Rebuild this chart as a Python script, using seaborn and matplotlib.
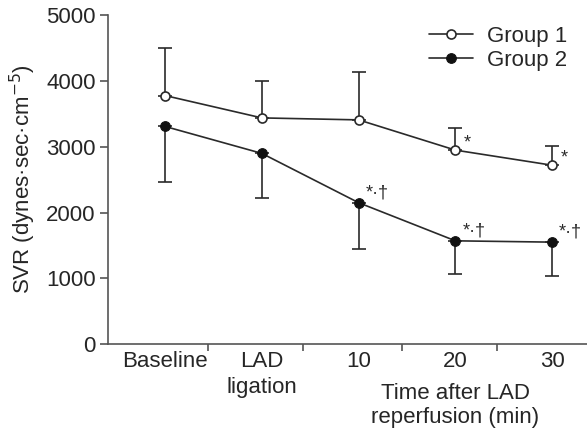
import numpy as np
import pandas as pd
import matplotlib
matplotlib.use("Agg")
import matplotlib.pyplot as plt
import seaborn as sns

# values
categories = ["Baseline", "LAD\nligation", "10", "20", "30"]
group1_mean = [3780, 3440, 3410, 2950, 2720]
group1_err = [720, 560, 730, 340, 290]      # upper error only
group2_mean = [3310, 2900, 2150, 1570, 1550]
group2_err = [850, 680, 700, 510, 510]      # lower error only
group1_marks = ["", "", "", "*", "*"]
group2_marks = ["", "", "*\u00b7\u2020", "*\u00b7\u2020", "*\u00b7\u2020"]

sns.set_style("ticks")
plt.rcParams["font.family"] = ["Liberation Sans", "DejaVu Sans"]
plt.rcParams["font.size"] = 16

gray = "#555555"
ink = "#2a2a2a"

x = np.arange(len(categories))
df = pd.DataFrame({
    "x": np.concatenate([x, x]),
    "SVR": group1_mean + group2_mean,
    "group": ["Group 1"] * len(x) + ["Group 2"] * len(x),
})

fig = plt.figure(figsize=(5.87, 4.33), dpi=100)
ax = fig.add_axes([0.184, 0.2055, 0.816, 0.759])

# error bars (one sided)
ax.errorbar(x, group1_mean, yerr=[np.zeros(len(x)), group1_err], fmt="none",
            ecolor=ink, elinewidth=1.2, capsize=5, capthick=1.2, zorder=1)
ax.errorbar(x, group2_mean, yerr=[group2_err, np.zeros(len(x))], fmt="none",
            ecolor=ink, elinewidth=1.2, capsize=5, capthick=1.2, zorder=1)

sns.lineplot(data=df[df.group == "Group 1"], x="x", y="SVR", ax=ax, color=ink,
             lw=1.2, marker="o", markersize=6.5, markerfacecolor="white",
             markeredgecolor=ink, markeredgewidth=1.2, label="Group 1", zorder=3)
sns.lineplot(data=df[df.group == "Group 2"], x="x", y="SVR", ax=ax, color=ink,
             lw=1.2, marker="o", markersize=7, markerfacecolor="#111111",
             markeredgecolor="#111111", label="Group 2", zorder=3)

# significance marks
for xi, yi, m in zip(x, group1_mean, group1_marks):
    if m:
        ax.annotate(m, (xi, yi), xytext=(6, -1), textcoords="offset points",
                    fontsize=13, va="bottom", ha="left", color=ink)
for xi, yi, m in zip(x, group2_mean, group2_marks):
    if m:
        ax.annotate(m, (xi, yi), xytext=(5, 1), textcoords="offset points",
                    fontsize=13, va="bottom", ha="left", color=ink)

ax.set_xlim(-0.59, 4.36)
ax.set_ylim(0, 5000)
ax.set_yticks([0, 1000, 2000, 3000, 4000, 5000])
ax.set_xticks(x)
ax.set_xticklabels(categories)
ax.set_xticks([0.44, 1.43, 2.45, 3.43], minor=True)
ax.tick_params(axis="x", which="major", length=0, pad=5, labelsize=16)
ax.tick_params(axis="x", which="minor", length=5, width=1.2, color=gray, direction="out")
ax.tick_params(axis="y", length=6, width=1.2, color=gray, labelsize=16, pad=3)
for t in ax.get_xticklabels():
    t.set_linespacing(1.3)
    t.set_va("top")

ax.set_xlabel("")
ax.set_ylabel("SVR (dynes\u00b7sec\u00b7cm$^{-5}$)", fontsize=16, labelpad=6)
ax.text(3.0, -0.118, "Time after LAD\nreperfusion (min)", transform=ax.get_xaxis_transform(),
        ha="center", va="top", fontsize=16, linespacing=1.2)

sns.despine(ax=ax)
for s in ["left", "bottom"]:
    ax.spines[s].set_color(gray)
    ax.spines[s].set_linewidth(1.2)

leg = ax.legend(loc="upper right", bbox_to_anchor=(1.0, 1.03), frameon=False,
                fontsize=16, handlelength=2.0, handletextpad=0.6, labelspacing=0.15)

fig.savefig("out.png", dpi=100)
